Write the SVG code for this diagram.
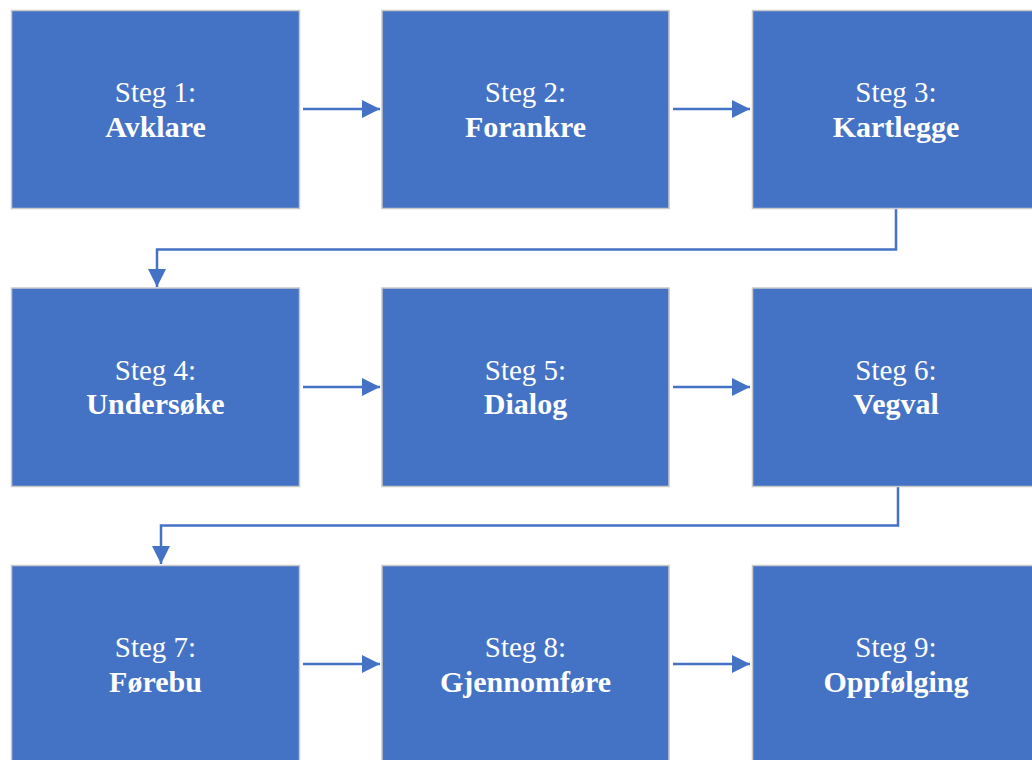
<svg xmlns="http://www.w3.org/2000/svg" width="1032" height="760" viewBox="0 0 1032 760">
<defs>
<style>
.box{fill:#4472C4;stroke:#C9C9C9;stroke-width:1.5}
.t{font-family:"Liberation Serif","Times New Roman",serif;font-size:29px;fill:#FFFFFF;text-anchor:middle}
.b{font-weight:bold;font-size:30px}
.c{fill:none;stroke:#4472C4;stroke-width:2.5}
</style>
<marker id="ah" viewBox="0 0 10 10" refX="10" refY="5" markerWidth="19" markerHeight="18" markerUnits="userSpaceOnUse" orient="auto">
<path d="M0,0 L10,5 L0,10 z" fill="#4472C4"/>
</marker>
</defs>
<rect width="1032" height="760" fill="#FFFFFF"/>
<g id="connectors">
<path class="c" d="M303,109 H380" marker-end="url(#ah)"/>
<path class="c" d="M673,109 H750" marker-end="url(#ah)"/>
<path class="c" d="M896,209 V249.5 H157 V287" marker-end="url(#ah)"/>
<path class="c" d="M303,387 H380" marker-end="url(#ah)"/>
<path class="c" d="M673,387 H750" marker-end="url(#ah)"/>
<path class="c" d="M898,487 V525.5 H161 V564" marker-end="url(#ah)"/>
<path class="c" d="M303,664 H380" marker-end="url(#ah)"/>
<path class="c" d="M673,664 H750" marker-end="url(#ah)"/>
</g>
<g id="n1"><rect class="box" x="11.5" y="10.5" width="288" height="198"/><text class="t" x="155.5" y="102">Steg 1:</text><text class="t b" x="155.5" y="136.5">Avklare</text></g>
<g id="n2"><rect class="box" x="382" y="10.5" width="287" height="198"/><text class="t" x="525.5" y="102">Steg 2:</text><text class="t b" x="525.5" y="136.5">Forankre</text></g>
<g id="n3"><rect class="box" x="752.5" y="10.5" width="290" height="198"/><text class="t" x="896" y="102">Steg 3:</text><text class="t b" x="896" y="136.5">Kartlegge</text></g>
<g id="n4"><rect class="box" x="11.5" y="288" width="288" height="198.5"/><text class="t" x="155.5" y="379.5">Steg 4:</text><text class="t b" x="155.5" y="414">Undersøke</text></g>
<g id="n5"><rect class="box" x="382" y="288" width="287" height="198.5"/><text class="t" x="525.5" y="379.5">Steg 5:</text><text class="t b" x="525.5" y="414">Dialog</text></g>
<g id="n6"><rect class="box" x="752.5" y="288" width="290" height="198.5"/><text class="t" x="896" y="379.5">Steg 6:</text><text class="t b" x="896" y="414">Vegval</text></g>
<g id="n7"><rect class="box" x="11.5" y="565.5" width="288" height="210"/><text class="t" x="155.5" y="657">Steg 7:</text><text class="t b" x="155.5" y="691.5">Førebu</text></g>
<g id="n8"><rect class="box" x="382" y="565.5" width="287" height="210"/><text class="t" x="525.5" y="657">Steg 8:</text><text class="t b" x="525.5" y="691.5">Gjennomføre</text></g>
<g id="n9"><rect class="box" x="752.5" y="565.5" width="290" height="210"/><text class="t" x="896" y="657">Steg 9:</text><text class="t b" x="896" y="691.5">Oppfølging</text></g>
</svg>
